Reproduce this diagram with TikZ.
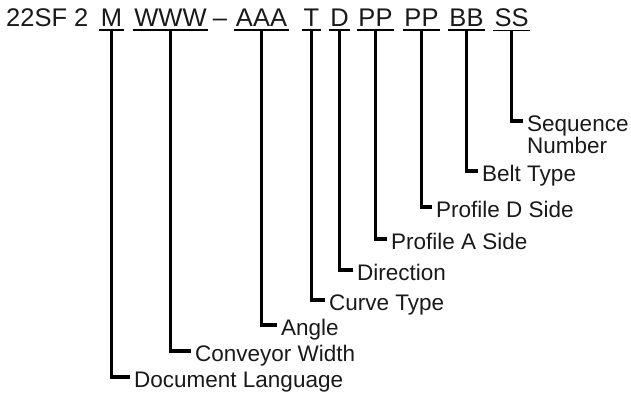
\documentclass[tikz,border=0pt]{standalone}
\usepackage{fontspec}
\setmainfont{Liberation Sans}
\begin{document}
\begin{tikzpicture}[x=1pt,y=-1pt,
  field/.style={font=\fontsize{25.5}{30}\selectfont, anchor=base, inner xsep=1.5pt, inner ysep=3pt, text=black!90},
  lbl/.style={font=\fontsize{22.5}{24}\selectfont, anchor=base west, inner sep=0pt, text=black!90},
  uline/.style={line width=1.5pt},
  conn/.style={line width=3.2pt}]
\useasboundingbox (0,0) rectangle (631,396);
% code fields
\node[field, anchor=base west, inner xsep=0pt] (pre) at (6,27) {22SF 2};
\node[field] (m) at (111.5,27) {M};
\node[field] (w) at (170.5,27) {WWW};
\node[field, inner xsep=0pt] (dash) at (220,27) {--};
\node[field] (a) at (261.5,27) {AAA};
\node[field] (t) at (311.5,27) {T};
\node[field] (d) at (339.5,27) {D};
\node[field] (pa) at (375.5,27) {PP};
\node[field] (pd) at (421.5,27) {PP};
\node[field] (b) at (466.5,27) {BB};
\node[field] (s) at (511.5,27) {SS};
\foreach \n in {m,w,a,t,d,pa,pd,b,s}
  \draw[uline] (\n.south west) -- (\n.south east);
% labels
\node[lbl] (seq) at (527,131) {Sequence};
\node[lbl] (num) at (527,153) {Number};
\node[lbl] (belt) at (482,181) {Belt Type};
\node[lbl] (prd) at (436,217) {Profile D Side};
\node[lbl] (pra) at (391,249) {Profile A Side};
\node[lbl] (dir) at (357,280) {Direction};
\node[lbl] (cur) at (329,310) {Curve Type};
\node[lbl] (ang) at (281,335) {Angle};
\node[lbl] (cw) at (195,361) {Conveyor Width};
\node[lbl] (doc) at (134,387) {Document Language};
% connectors
\draw[conn] (s.south) |- ([xshift=-4pt,yshift=10pt]seq.base west);
\draw[conn] (b.south) |- ([xshift=-4pt,yshift=10pt]belt.base west);
\draw[conn] (pd.south) |- ([xshift=-4pt,yshift=10pt]prd.base west);
\draw[conn] (pa.south) |- ([xshift=-4pt,yshift=10pt]pra.base west);
\draw[conn] (d.south) |- ([xshift=-4pt,yshift=10pt]dir.base west);
\draw[conn] (t.south) |- ([xshift=-4pt,yshift=10pt]cur.base west);
\draw[conn] (a.south) |- ([xshift=-4pt,yshift=10pt]ang.base west);
\draw[conn] (w.south) |- ([xshift=-4pt,yshift=10pt]cw.base west);
\draw[conn] (m.south) |- ([xshift=-4pt,yshift=10pt]doc.base west);
\end{tikzpicture}
\end{document}
